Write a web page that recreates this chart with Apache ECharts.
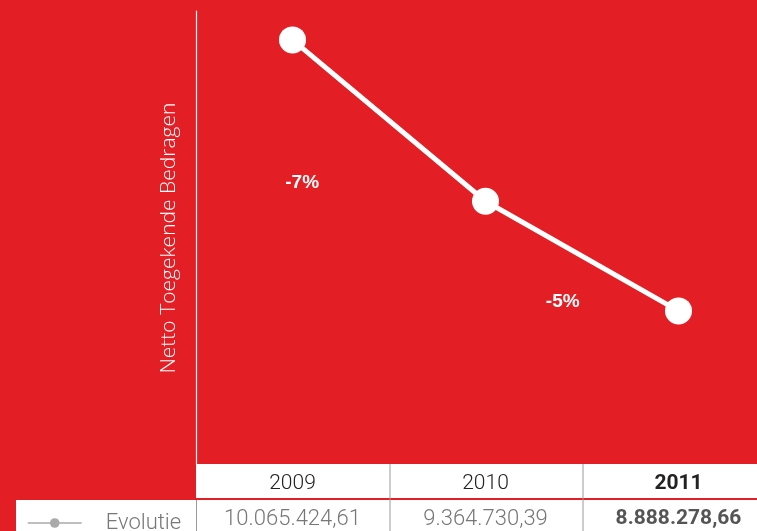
<!DOCTYPE html>
<html>
<head>
<meta charset="utf-8">
<script src="https://cdn.jsdelivr.net/npm/echarts@6/dist/echarts.min.js"></script>
<style>
  html, body { margin: 0; padding: 0; background: #e31e25; }
  #chart { width: 757px; height: 531px; }
</style>
</head>
<body>
<div id="chart"></div>
<script>
var years = ['2009', '2010', '2011'];
var amounts = [10065424.61, 9364730.39, 8888278.66];
var amountLabels = ['10.065.424,61', '9.364.730,39', '8.888.278,66'];
var changeLabels = ['-7%', '-5%'];
// where the change labels sit, in chart units (category index, amount)
var changeAnchors = [[0.05, 9444000], [1.4, 8927000]];

var red = '#e31e25';
var grey = '#999';
var font = 'Roboto';

var chart = echarts.init(document.getElementById('chart'));

var option = {
    backgroundColor: red,
    animation: false,
    grid: { left: 196, width: 579, top: 11, bottom: 66, outerBoundsMode: 'none', containLabel: false },
    legend: {
        left: 22, top: 507,
        itemWidth: 54, itemHeight: 12,
        itemStyle: { color: '#aaa' },
        lineStyle: { color: '#aaa', width: 1.5 },
        textStyle: { color: '#777', fontSize: 22, fontFamily: font, fontWeight: 300, padding: [0, 0, 0, 19] },
        data: ['Evolutie']
    },
    xAxis: [
        {
            type: 'category',
            data: years,
            axisLine: { show: false },
            axisTick: { show: false },
            axisLabel: {
                margin: 8, interval: 0,
                fontFamily: font, fontSize: 21, color: '#222', fontWeight: 300,
                formatter: function (v, i) {
                    return i === years.length - 1 ? '{b|' + v + '}' : v;
                },
                rich: { b: { fontFamily: font, fontSize: 21, fontWeight: 'bold', color: '#222' } }
            }
        },
        {
            type: 'category',
            data: amountLabels,
            position: 'bottom',
            offset: 35,
            axisLine: { show: false },
            axisTick: { show: false },
            axisLabel: {
                margin: 8, interval: 0, hideOverlap: false,
                fontFamily: font, fontSize: 22, color: '#777', fontWeight: 300,
                formatter: function (v, i) {
                    return i === amountLabels.length - 1 ? '{b|' + v + '}' : v;
                },
                rich: { b: { fontFamily: font, fontSize: 21, fontWeight: 'bold', color: '#555' } }
            }
        },
        {
            type: 'value',
            min: -0.5, max: 2.5,
            show: false
        }
    ],
    yAxis: {
        type: 'value',
        min: 8219000, max: 10191000,
        name: 'Netto Toegekende Bedragen',
        nameLocation: 'middle',
        nameGap: 16,
        nameTextStyle: { color: '#fff', fontSize: 21, fontFamily: 'Open Sans', fontWeight: 300 },
        axisLine: { show: true, onZero: false, lineStyle: { color: '#fff', width: 1.2 } },
        axisTick: { show: false },
        axisLabel: { show: false },
        splitLine: { show: false }
    },
    graphic: {
        elements: [
            { type: 'rect', z: -1, shape: { x: 196, y: 464, width: 561, height: 34 }, style: { fill: '#fff' } },
            { type: 'rect', z: -1, shape: { x: 16, y: 500, width: 741, height: 31 }, style: { fill: '#fff' } },
            { type: 'line', z: -1, shape: { x1: 390, y1: 464, x2: 390, y2: 531 }, style: { stroke: grey, lineWidth: 1 } },
            { type: 'line', z: -1, shape: { x1: 583, y1: 464, x2: 583, y2: 531 }, style: { stroke: grey, lineWidth: 1 } },
            { type: 'line', z: -1, shape: { x1: 196.5, y1: 500, x2: 196.5, y2: 531 }, style: { stroke: grey, lineWidth: 1 } }
        ]
    },
    series: [
        {
            name: 'Evolutie',
            type: 'line',
            data: amounts,
            symbol: 'circle',
            symbolSize: 27,
            lineStyle: { color: '#fff', width: 5 },
            itemStyle: { color: '#fff' }
        },
        {
            type: 'scatter',
            xAxisIndex: 2,
            symbolSize: 1,
            itemStyle: { color: 'rgba(0,0,0,0)', opacity: 1 },
            data: changeAnchors.map(function (p, i) {
                return { value: p, label: { formatter: changeLabels[i] } };
            }),
            label: {
                show: true, position: 'inside', opacity: 1,
                color: '#fff', fontSize: 19, fontWeight: 'bold', fontFamily: 'Liberation Sans'
            }
        }
    ]
};

chart.setOption(option);
</script>
</body>
</html>
